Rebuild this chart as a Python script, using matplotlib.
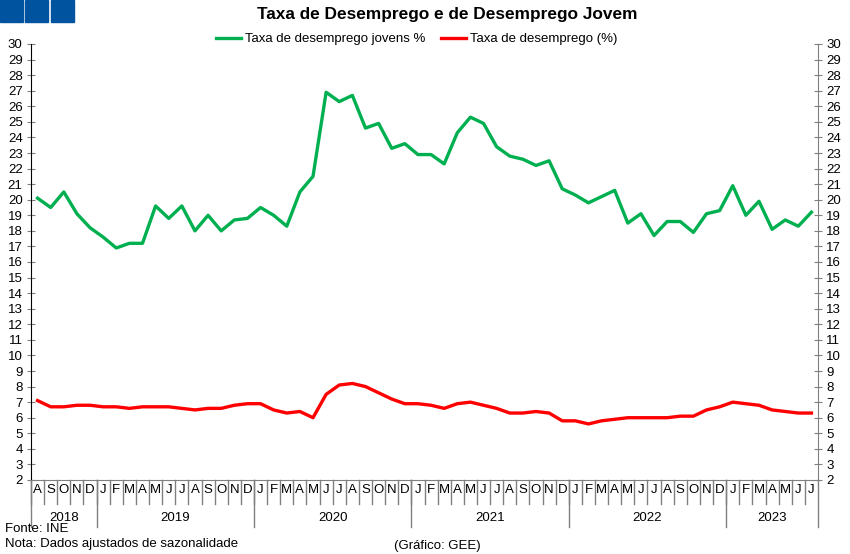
import matplotlib.pyplot as plt
from matplotlib.patches import Rectangle

plt.rcParams['font.family'] = ['Liberation Sans', 'DejaVu Sans']

# monthly data, Aug 2018 .. Jul 2023
month_letters = ["A", "S", "O", "N", "D"] + \
    ["J", "F", "M", "A", "M", "J", "J", "A", "S", "O", "N", "D"] * 4 + \
    ["J", "F", "M", "A", "M", "J", "J"]
years = ["2018", "2019", "2020", "2021", "2022", "2023"]
months_per_year = [5, 12, 12, 12, 12, 7]

youth = [20.1, 19.5, 20.5, 19.1, 18.2,
         17.6, 16.9, 17.2, 17.2, 19.6, 18.8, 19.6, 18.0, 19.0, 18.0, 18.7, 18.8,
         19.5, 19.0, 18.3, 20.5, 21.5, 26.9, 26.3, 26.7, 24.6, 24.9, 23.3, 23.6,
         22.9, 22.9, 22.3, 24.3, 25.3, 24.9, 23.4, 22.8, 22.6, 22.2, 22.5, 20.7,
         20.3, 19.8, 20.2, 20.6, 18.5, 19.1, 17.7, 18.6, 18.6, 17.9, 19.1, 19.3,
         20.9, 19.0, 19.9, 18.1, 18.7, 18.3, 19.2]
total = [7.1, 6.7, 6.7, 6.8, 6.8,
         6.7, 6.7, 6.6, 6.7, 6.7, 6.7, 6.6, 6.5, 6.6, 6.6, 6.8, 6.9,
         6.9, 6.5, 6.3, 6.4, 6.0, 7.5, 8.1, 8.2, 8.0, 7.6, 7.2, 6.9,
         6.9, 6.8, 6.6, 6.9, 7.0, 6.8, 6.6, 6.3, 6.3, 6.4, 6.3, 5.8,
         5.8, 5.6, 5.8, 5.9, 6.0, 6.0, 6.0, 6.0, 6.1, 6.1, 6.5, 6.7,
         7.0, 6.9, 6.8, 6.5, 6.4, 6.3, 6.3]

GREEN = "#00B050"
RED = "#FF0000"
FS = 9.5

fig = plt.figure(figsize=(8.5, 5.54), dpi=100)
ax = fig.add_axes([31 / 850, 1 - 480 / 554, 787 / 850, 436 / 554])

x = list(range(len(youth)))
ax.plot(x, youth, color=GREEN, lw=2.4, label="Taxa de desemprego jovens %")
ax.plot(x, total, color=RED, lw=2.4, label="Taxa de desemprego (%)")

ax.set_xlim(-0.5, len(x) - 0.5)
ax.set_ylim(2, 30)
ax.set_yticks(range(2, 31))
ax.tick_params(axis="y", which="both", direction="inout", length=6, color="#808080",
               labelsize=FS, left=True, right=True, labelleft=True, labelright=True, pad=3)
ax.set_xticks([])
ax.spines["left"].set_color("black")
for s in ["right", "bottom"]:
    ax.spines[s].set_color("#808080")
ax.spines["top"].set_visible(False)

# month separators and labels
trans = ax.get_xaxis_transform()
px = 1 / 436
for i, m in enumerate(month_letters):
    ax.text(i, -10 * px, m, transform=trans, ha="center", va="center", fontsize=FS)
    ax.plot([i - 0.5, i - 0.5], [0, -24 * px], transform=trans, color="#808080", lw=1, clip_on=False)

start = -0.5
for yr, n in zip(years, months_per_year):
    ax.plot([start, start], [0, -47 * px], transform=trans, color="#808080", lw=1, clip_on=False)
    ax.text(start + n / 2, -38 * px, yr, transform=trans, ha="center", va="center", fontsize=FS)
    start += n
ax.plot([start, start], [0, -47 * px], transform=trans, color="#808080", lw=1, clip_on=False)

fig.text(447 / 850, 1 - 14 / 554, "Taxa de Desemprego e de Desemprego Jovem", ha="center", va="center",
         fontsize=12.4, fontweight="bold")
fig.legend(loc="center", bbox_to_anchor=(417 / 850, 1 - 39 / 554), ncol=2, frameon=False, fontsize=FS,
           handlelength=1.9, handletextpad=0.3, columnspacing=1.2)

for x0 in [0, 25, 51]:
    fig.patches.append(Rectangle((x0 / 850, 1 - 22 / 554), 23 / 850, 22 / 554, color="#00549F",
                                 transform=fig.transFigure))

fig.text(5 / 850, 1 - 529 / 554, "Fonte: INE", ha="left", va="center", fontsize=FS)
fig.text(5 / 850, 1 - 544 / 554, "Nota: Dados ajustados de sazonalidade", ha="left", va="center", fontsize=FS)
fig.text(437 / 850, 1 - 546 / 554, "(Gráfico: GEE)", ha="center", va="center", fontsize=FS)

fig.savefig("out.png", dpi=100)
